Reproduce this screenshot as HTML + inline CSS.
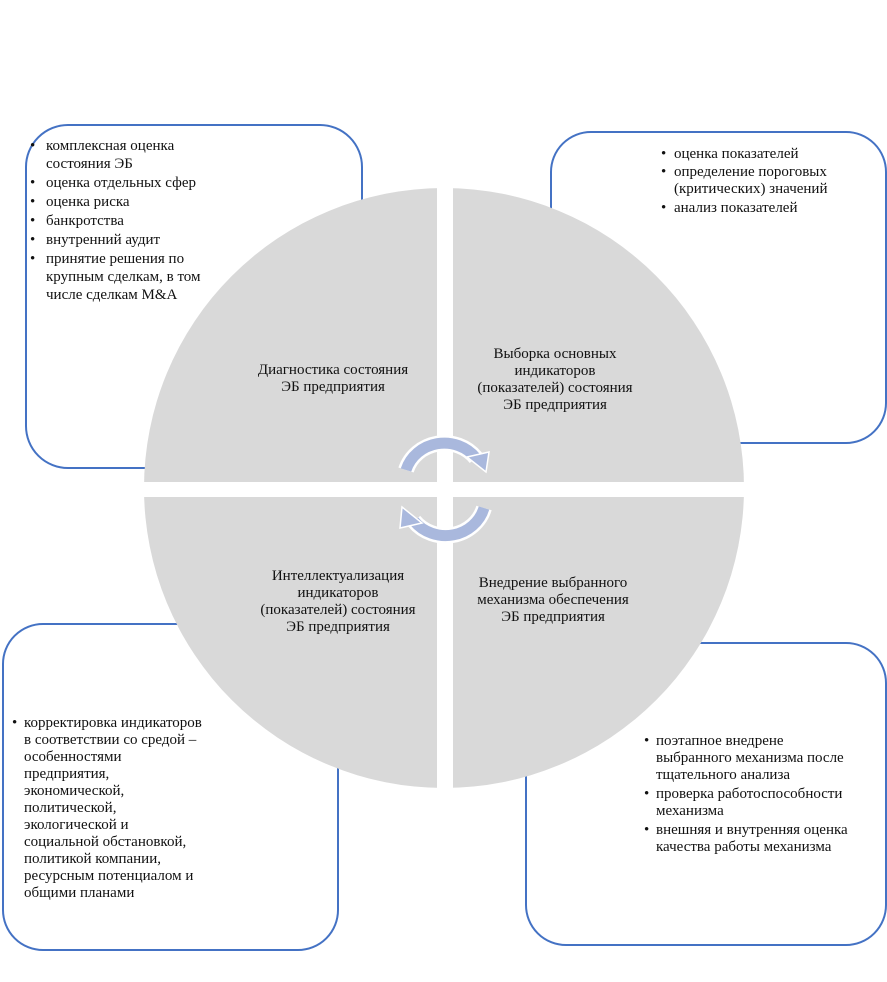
<!DOCTYPE html>
<html><head><meta charset="utf-8"><style>
body{margin:0;background:#fff;width:887px;height:977px;overflow:hidden}
svg text{font-family:"Liberation Serif",serif;font-size:15px;fill:#111}
</style></head><body>
<svg width="887" height="977" viewBox="0 0 887 977">
<g fill="#fff" stroke="#4472c4" stroke-width="2">
<rect x="26" y="125" width="336" height="343" rx="42"/>
<rect x="551" y="132" width="335" height="311" rx="40"/>
<rect x="3" y="624" width="335" height="326" rx="40"/>
<rect x="526" y="643" width="360" height="302" rx="40"/>
</g>
<circle cx="444" cy="488" r="300" fill="#d9d9d9"/>
<rect x="437" y="180" width="16" height="620" fill="#fff"/>
<rect x="130" y="482" width="630" height="15" fill="#fff"/>
<g fill="none" stroke-linecap="butt">
<path d="M406 470 A40 38 0 0 1 476 458" stroke="#fff" stroke-width="16"/>
<path d="M406 470 A40 38 0 0 1 476 458" stroke="#a9b8dd" stroke-width="11"/>
<path d="M484 508 A40 38 0 0 1 414 521" stroke="#fff" stroke-width="16"/>
<path d="M484 508 A40 38 0 0 1 414 521" stroke="#a9b8dd" stroke-width="11"/>
</g>
<polygon points="467,457 489,452 486,472" fill="#a9b8dd" stroke="#fff" stroke-width="1.5"/>
<polygon points="422,523 400,528 402,507" fill="#a9b8dd" stroke="#fff" stroke-width="1.5"/>
<g text-anchor="middle">
<text x="333" y="374">Диагностика состояния</text><text x="333" y="391">ЭБ предприятия</text>
<text x="555" y="358">Выборка основных</text><text x="555" y="375">индикаторов</text><text x="555" y="392">(показателей) состояния</text><text x="555" y="409">ЭБ предприятия</text>
<text x="338" y="580">Интеллектуализация</text><text x="338" y="597">индикаторов</text><text x="338" y="614">(показателей) состояния</text><text x="338" y="631">ЭБ предприятия</text>
<text x="553" y="587">Внедрение выбранного</text><text x="553" y="604">механизма обеспечения</text><text x="553" y="621">ЭБ предприятия</text>
</g>
<g>
<text x="30" y="150">•</text><text x="46" y="150">комплексная оценка</text><text x="46" y="168">состояния ЭБ</text>
<text x="30" y="187">•</text><text x="46" y="187">оценка отдельных сфер</text>
<text x="30" y="206">•</text><text x="46" y="206">оценка риска</text>
<text x="30" y="225">•</text><text x="46" y="225">банкротства</text>
<text x="30" y="244">•</text><text x="46" y="244">внутренний аудит</text>
<text x="30" y="263">•</text><text x="46" y="263">принятие решения по</text><text x="46" y="281">крупным сделкам, в том</text><text x="46" y="299">числе сделкам M&amp;A</text>

<text x="661" y="158">•</text><text x="674" y="158">оценка показателей</text>
<text x="661" y="176">•</text><text x="674" y="176">определение пороговых</text><text x="674" y="193">(критических) значений</text>
<text x="661" y="212">•</text><text x="674" y="212">анализ показателей</text>

<text x="12" y="727">•</text><text x="24" y="727">корректировка индикаторов</text><text x="24" y="744">в соответствии со средой –</text><text x="24" y="761">особенностями</text><text x="24" y="778">предприятия,</text><text x="24" y="795">экономической,</text><text x="24" y="812">политической,</text><text x="24" y="829">экологической и</text><text x="24" y="846">социальной обстановкой,</text><text x="24" y="863">политикой компании,</text><text x="24" y="880">ресурсным потенциалом и</text><text x="24" y="897">общими планами</text>

<text x="644" y="745">•</text><text x="656" y="745">поэтапное внедрене</text><text x="656" y="762">выбранного механизма после</text><text x="656" y="779">тщательного анализа</text>
<text x="644" y="798">•</text><text x="656" y="798">проверка работоспособности</text><text x="656" y="815">механизма</text>
<text x="644" y="834">•</text><text x="656" y="834">внешняя и внутренняя оценка</text><text x="656" y="851">качества работы механизма</text>
</g>
</svg>
</body></html>
